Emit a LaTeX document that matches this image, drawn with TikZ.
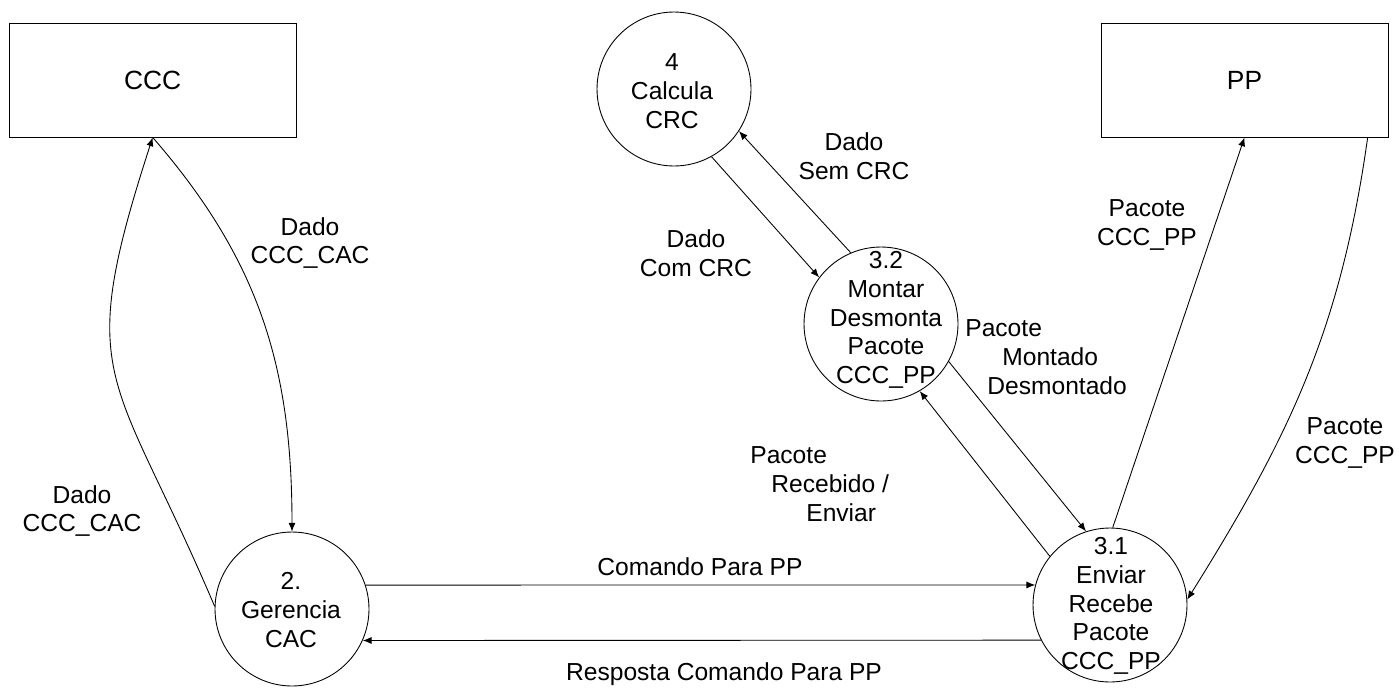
\documentclass[tikz,border=0pt]{standalone}
\usepackage{fontspec}
\setmainfont{Liberation Sans}
\usetikzlibrary{arrows.meta}

\begin{document}
\begin{tikzpicture}[
  x=0.02cm, y=-0.02cm,
  every node/.style={inner sep=0pt},
  font=\fontsize{14}{16.4}\selectfont,
  ext/.style={rectangle, draw, line width=0.5pt,
              minimum width=5.74cm, minimum height=2.28cm,
              font=\fontsize{15}{18}\selectfont},
  proc/.style={circle, draw, line width=0.5pt, minimum size=3.08cm},
  ptxt/.style={align=center},
  lbl/.style={align=center},
  flow/.style={-{Latex[length=5pt,width=4pt]}, line width=0.5pt}
]
\useasboundingbox (0,0) rectangle (1399,690);

% External entities
\node[ext] (ccc) at (152.7,80) {CCC};
\node[ext] (pp)  at (1244.5,80) {PP};

% Processes
\node[proc] (calc) at (674,89)  {};
\node[proc] (mont) at (881,324) {};
\node[proc] (ger)  at (292,609) {};
\node[proc] (env)  at (1110,605) {};

\node[ptxt] (calct) at (672,91)  {4\\Calcula\\CRC};
\node[ptxt] (montt) at (886,320) {3.2\\Montar\\Desmonta\\Pacote\\CCC\_PP};
\node[ptxt] (gert)  at (291,610) {2.\\Gerencia\\CAC};
\node[ptxt] (envt)  at (1111,606) {3.1\\Enviar\\Recebe\\Pacote\\CCC\_PP};

% Flows CCC - Gerencia
\draw[flow] (ger.178) to[out=113, in=-108, looseness=1.4] (ccc.south);
\draw[flow] (ccc.south) to[out=-49, in=90] (ger.north);
\node[lbl] (d1) at (310,243) {Dado\\CCC\_CAC};
\node[lbl] (d2) at (82,511)  {Dado\\CCC\_CAC};

% Flows Calcula - Montar
\draw[flow] (calc.-61) -- (mont.143);
\draw[flow] (mont.113) -- (calc.-33);
\node[lbl] (d3) at (854,156) {Dado\\Sem CRC};
\node[lbl] (d4) at (696,253) {Dado\\Com CRC};

% Flows Montar - Enviar
\draw[flow] (mont.-29) -- (env.108);
\draw[flow] (env.141) -- (mont.-60);
\node[lbl, align=left, anchor=west] (d5) at (965,357)
  {Pacote\\\hspace*{0.74cm}Montado\\\hspace*{0.44cm}Desmontado};
\node[lbl, align=left, anchor=west] (d6) at (750,484)
  {Pacote\\\hspace*{0.42cm}Recebido /\\\hspace*{1.12cm}Enviar};

% Flows Enviar - PP
\draw[flow] (env.88) -- (pp.south);
\draw[flow] (pp.-25) to[out=-98, in=58] (env.4);
\node[lbl] (d7) at (1147,225)  {Pacote\\CCC\_PP};
\node[lbl] (d8) at (1345,443)  {Pacote\\CCC\_PP};

% Flows Gerencia - Enviar
\draw[flow] (ger.18) -- (env.165);
\draw[flow] (env.207) -- (ger.336);
\node[lbl, anchor=base] (d9)  at (700,575) {Comando Para PP};
\node[lbl, anchor=base] (d10) at (724,680) {Resposta Comando Para PP};

\end{tikzpicture}
\end{document}
